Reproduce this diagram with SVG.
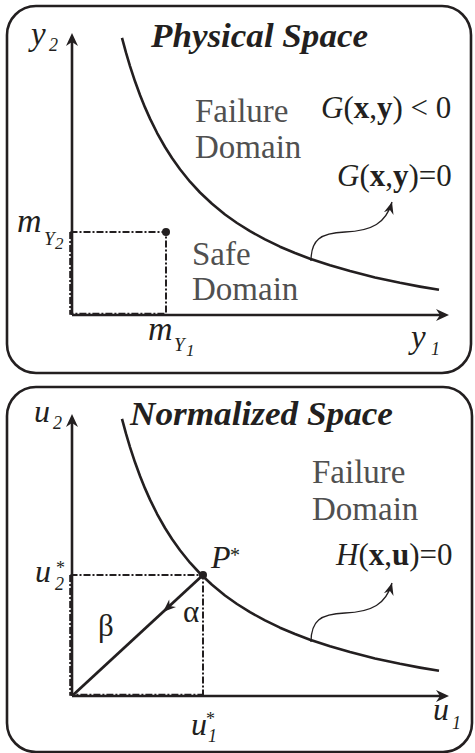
<svg xmlns="http://www.w3.org/2000/svg" width="475" height="753" viewBox="0 0 475 753">
<style>
.frame{fill:none;stroke:#231f20;stroke-width:2.6}
.axis{fill:none;stroke:#231f20;stroke-width:2.6}
.curve{fill:none;stroke:#231f20;stroke-width:2.6;stroke-linejoin:round;stroke-linecap:butt}
.dash{fill:none;stroke:#231f20;stroke-width:2;stroke-dasharray:7 2 2 2}
.thin{fill:none;stroke:#231f20;stroke-width:1.3}
.ah{fill:#231f20}
.t{font-family:"Liberation Serif","Times New Roman",serif;fill:#231f20}
.it{font-style:italic}
.title{font-weight:bold;font-style:italic;font-size:34px}
.dom{font-size:33px;fill:#505050}
.m{font-size:31px}
.sub{font-size:18px;font-style:italic}
.b{font-weight:bold;font-style:normal}
</style>
<defs>
<marker id="stealth" markerUnits="userSpaceOnUse" viewBox="-12 -6 13 12" refX="0" refY="0" markerWidth="13" markerHeight="12" orient="auto">
<path d="M0,0 L-12,-5 L-8,0 L-12,5 Z" fill="#231f20"/>
</marker>
<path id="hyp" d="M122,37.9 L126,52.7 L130,66.1 L135,81.3 L140,95 L145,107.4 L150,118.6 L157,132.8 L165,147 L172,158 L180,169.3 L190,181.7 L200,192.5 L212,203.8 L225,214.5 L237,223 L250,231.2 L265,239.4 L280,246.7 L295,253 L310,258.7 L330,265.3 L350,271.1 L375,277.4 L400,282.8 L420,286.6 L439,289.8"/>
</defs>

<g id="physical-panel">
<rect class="frame" x="7" y="6" width="464" height="367" rx="29" ry="29"/>
</g>
<g id="physical-axes">
<line class="axis" x1="72" y1="315" x2="72" y2="42"/>
<path class="ah" d="M72,33 L66,46 L72,42 L78,46 Z"/>
<line class="axis" x1="72" y1="315" x2="440" y2="315"/>
<path class="ah" d="M449,315 L436,309 L440,315 L436,321 Z"/>
<text class="t it" x="31" y="45" font-size="33">y</text>
<text class="t sub" x="49" y="51">2</text>
<text class="t it" x="411" y="348" font-size="33">y</text>
<text class="t sub" x="431" y="355">1</text>
</g>
<g id="physical-limit">
<use href="#hyp" class="curve"/>
<path class="thin" d="M311,261 C311,240 320,233 345,232 C372,231 386,223 392,202" marker-end="url(#stealth)"/>
</g>
<g id="physical-mean">
<path class="dash" d="M70.5,232 L166,232 L166,315"/>
<path class="dash" d="M70.2,232 L70.2,313.8 L166,313.8"/>
<circle cx="166" cy="232" r="4" fill="#231f20"/>
<text class="t it" x="17" y="232" font-size="34">m</text>
<text class="t it" x="44" y="245" font-size="19">Y</text>
<text class="t it" x="55" y="249" font-size="17">2</text>
<text class="t it" x="148" y="340" font-size="34">m</text>
<text class="t it" x="174" y="351" font-size="19">Y</text>
<text class="t it" x="186" y="356" font-size="17">1</text>
</g>
<g id="physical-labels">
<text class="t title" x="151" y="47" textLength="217" lengthAdjust="spacingAndGlyphs">Physical Space</text>
<text class="t dom" x="195" y="122">Failure</text>
<text class="t dom" x="195" y="158">Domain</text>
<text class="t dom" x="192" y="265">Safe</text>
<text class="t dom" x="192" y="300">Domain</text>
<text class="t m" x="321" y="118"><tspan font-style="italic">G</tspan>(<tspan class="b">x</tspan>,<tspan class="b">y</tspan>) &lt; 0</text>
<text class="t m" x="337" y="186"><tspan font-style="italic">G</tspan>(<tspan class="b">x</tspan>,<tspan class="b">y</tspan>)=0</text>
</g>

<g id="normalized-panel">
<rect class="frame" x="7" y="387" width="465" height="365" rx="29" ry="29"/>
</g>
<g id="normalized-axes">
<line class="axis" x1="72" y1="696" x2="72" y2="423"/>
<path class="ah" d="M72,414 L66,427 L72,423 L78,427 Z"/>
<line class="axis" x1="72" y1="696" x2="440" y2="696"/>
<path class="ah" d="M449,696 L436,690 L440,696 L436,702 Z"/>
<text class="t it" x="34" y="422" font-size="32">u</text>
<text class="t sub" x="53" y="429">2</text>
<text class="t it" x="433" y="720" font-size="32">u</text>
<text class="t sub" x="452" y="729">1</text>
</g>
<g id="normalized-limit">
<use href="#hyp" class="curve" transform="translate(0,381)"/>
<path class="thin" d="M311,261 C311,240 320,233 345,232 C372,231 386,223 392,202" transform="translate(0,381)" marker-end="url(#stealth)"/>
</g>
<g id="design-point">
<path class="dash" d="M70.5,575 L203,575 L203,696"/>
<path class="dash" d="M70.2,575 L70.2,694.8 L203,694.8"/>
<line x1="72" y1="696" x2="203" y2="575" stroke="#231f20" stroke-width="2.8"/>
<path class="ah" d="M163,612 L169.2,599.5 L169.6,605.9 L176,606.9 Z"/>
<circle cx="203" cy="575" r="4" fill="#231f20"/>
<text class="t it" x="211" y="568" font-size="32">P</text>
<text class="t" x="230" y="562" font-size="20">*</text>
<text class="t it" x="35" y="582" font-size="32">u</text>
<text class="t sub" x="55" y="590">2</text>
<text class="t" x="56" y="574" font-size="18">*</text>
<text class="t it" x="191" y="735" font-size="32">u</text>
<text class="t sub" x="208" y="742">1</text>
<text class="t" x="206" y="725" font-size="18">*</text>
<text class="t" x="183" y="622" font-size="31">α</text>
<text class="t" x="98" y="636" font-size="31">β</text>
</g>
<g id="normalized-labels">
<text class="t title" x="130" y="425" textLength="263" lengthAdjust="spacingAndGlyphs">Normalized Space</text>
<text class="t dom" x="312" y="483">Failure</text>
<text class="t dom" x="312" y="520">Domain</text>
<text class="t m" x="336" y="565"><tspan font-style="italic">H</tspan>(<tspan class="b">x</tspan>,<tspan class="b">u</tspan>)=0</text>
</g>
</svg>
